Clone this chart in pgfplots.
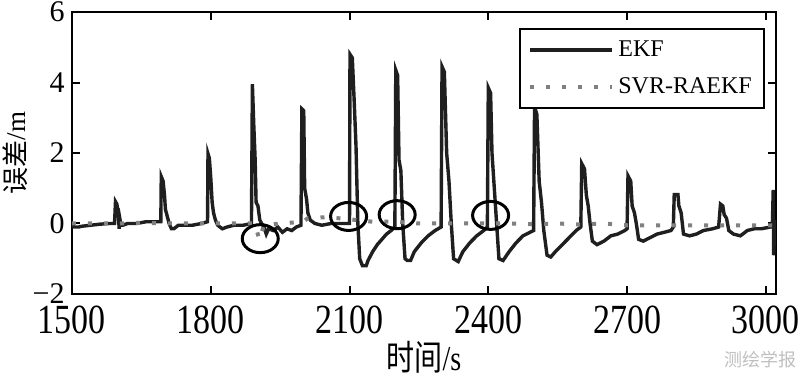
\documentclass[border=0pt]{standalone}
\usepackage{fontspec}
\setmainfont{Liberation Serif}
\newfontfamily\cjk{Noto Sans CJK SC}
\usepackage{pgfplots}
\pgfplotsset{compat=1.18}
\newcommand{\tall}[1]{\scalebox{1}[1.22]{#1}}
\begin{document}
\begin{tikzpicture}
\begin{axis}[
  name=ax,
  scale only axis,
  width=352pt, height=141pt,
  xmin=1500, xmax=3022, ymin=-2, ymax=6,
  xtick={1500,1800,2100,2400,2700,3000},
  xticklabels={\tall{1500},\tall{1800},\tall{2100},\tall{2400},\tall{2700},\tall{3000}},
  ytick={-2,0,2,4,6},
  yticklabels={−2,0,2,4,6},
  tick align=inside,
  major tick length=4pt,
  axis line style={line width=1.3pt},
  every tick/.style={line width=1pt, black},
  xticklabel style={font=\fontsize{17}{19}\selectfont, inner sep=1pt, yshift=-5pt},
  yticklabel style={font=\fontsize{15}{17}\selectfont, inner sep=1pt, xshift=-2.5pt},
  xlabel={\scalebox{1}[1.25]{\cjk 时间\rmfamily/s}},
  ylabel={\cjk 误差\rmfamily/m},
  xlabel style={font=\fontsize{14}{16}\selectfont, at={(axis description cs:0.5,-0.225)}, anchor=center},
  ylabel style={font=\fontsize{13.5}{15}\selectfont, at={(axis description cs:-0.081,0.5)}, anchor=center},
  legend style={at={(0.984,0.944)}, anchor=north east, draw=black, line width=1pt,
    font=\fontsize{12}{14}\selectfont, inner xsep=4pt, inner ysep=4pt, row sep=5pt},
  legend cell align=left,
  legend image code/.code={\draw[#1] (0pt,0pt) -- (41pt,0pt);},
  clip=true,
]
\addplot[color=black!88, line width=1.7pt, line join=miter] coordinates {
(1500,-0.05) (1505,-0.1) (1515,-0.1) (1520,-0.08) (1540,-0.05) (1560,-0.02) (1580,0) (1592,0)
(1594,0.62) (1597,0.55) (1600,0.3) (1602,-0.15) (1604,0.1) (1606,-0.05) (1610,-0.05) (1620,0.0) (1640,0.0) (1660,0.05) (1690,0.05)
(1692,0.05) (1693,1.33) (1697,1.2) (1700,0.8) (1702,0.4) (1706,0.2) (1710,0) (1715,-0.15) (1720,-0.15) (1730,-0.05) (1760,-0.05) (1780,0) (1793,0.05)
(1794,1.98) (1797,1.85) (1800,1.3) (1803,0.6) (1806,0.3) (1810,0.1) (1815,-0.05) (1825,-0.15) (1835,-0.1) (1850,-0.05) (1870,-0.05) (1888,0.0)
(1890,3.95) (1893,2.8) (1896,1.8) (1898,0.6) (1902,0.5) (1906,0.1) (1910,0) (1915,-0.1) (1920,-0.3) (1925,-0.15) (1935,-0.2) (1945,-0.1) (1955,-0.25) (1965,-0.15) (1975,-0.2) (1985,-0.1) (1995,-0.05)
(1997,3.25) (2001,3.2) (2003,1.0) (2007,0.7) (2010,0.3) (2015,0.1) (2025,0.0) (2040,-0.05) (2060,0.0) (2080,0.0) (2098,0.0)
(2100,0.0) (2101,4.8) (2106,4.7) (2110,3.5) (2114,2.2) (2118,0.0) (2122,-1.0) (2128,-1.2) (2136,-1.2) (2140,-1.05) (2150,-0.8) (2160,-0.6) (2170,-0.45) (2180,-0.3) (2190,-0.2) (2198,-0.1)
(2200,4.35) (2204,4.2) (2207,1.8) (2211,1.5) (2215,0.0) (2220,-1.0) (2225,-1.05) (2232,-1.05) (2240,-0.8) (2255,-0.55) (2270,-0.35) (2285,-0.2) (2298,-0.1)
(2300,4.45) (2305,4.3) (2310,2.0) (2315,1.2) (2320,0.0) (2325,-1.0) (2335,-1.08) (2345,-0.8) (2360,-0.55) (2375,-0.35) (2390,-0.2) (2398,-0.1)
(2400,3.85) (2405,3.7) (2408,2.0) (2413,1.0) (2418,0.0) (2423,-1.0) (2432,-1.05) (2445,-0.8) (2460,-0.55) (2475,-0.35) (2490,-0.25) (2498,-0.2)
(2500,3.3) (2505,3.1) (2510,1.2) (2515,0.6) (2520,-0.2) (2527,-0.9) (2535,-0.95) (2545,-0.8) (2560,-0.6) (2575,-0.4) (2590,-0.2) (2600,-0.1)
(2602,1.7) (2608,1.55) (2612,0.8) (2616,0.5) (2620,0.0) (2625,-0.5) (2635,-0.6) (2650,-0.5) (2665,-0.35) (2680,-0.3) (2695,-0.2) (2700,-0.15)
(2702,1.35) (2708,1.2) (2711,0.5) (2716,0.3) (2720,0.0) (2725,-0.45) (2735,-0.5) (2750,-0.4) (2765,-0.3) (2780,-0.25) (2795,-0.2) (2800,-0.1)
(2802,0.82) (2810,0.82) (2812,0.5) (2817,0.3) (2822,-0.3) (2835,-0.35) (2850,-0.3) (2865,-0.2) (2885,-0.15) (2898,-0.1)
(2902,0.55) (2907,0.5) (2910,0.25) (2915,0.15) (2920,-0.2) (2930,-0.3) (2945,-0.35) (2960,-0.2) (2975,-0.15) (2990,-0.15) (3010,-0.1)
(3014,-0.1) (3016,0.95) (3017,-0.9) (3020,0.1)
};
\addlegendentry{EKF}
\addplot[color=black!50, line width=2pt, dash pattern=on 2pt off 6pt] coordinates {
(1500,0.0) (1550,0.0) (1600,0.0) (1650,0.02) (1700,0.0) (1750,0.0) (1800,0.0) (1850,0.0) (1895,0.0)
(1905,-0.45) (1915,-0.05) (1950,0.0) (2000,0.05) (2010,0.15) (2050,0.18) (2100,0.12) (2150,0.05) (2200,0.05)
(2250,0.0) (2300,0.0) (2350,0.0) (2400,0.0) (2450,0.0) (2500,-0.02) (2550,0.0) (2600,-0.03) (2650,0.0)
(2700,-0.05) (2750,-0.05) (2800,-0.05) (2850,-0.05) (2900,-0.05) (2950,-0.05) (3000,-0.05) (3020,-0.05)
};
\addlegendentry{SVR-RAEKF}
\draw[line width=1.5pt] (axis cs:1907,-0.43) ellipse [x radius=9pt, y radius=7pt];
\draw[line width=1.5pt] (axis cs:2098,0.2) ellipse [x radius=9pt, y radius=7pt];
\draw[line width=1.5pt] (axis cs:2203,0.25) ellipse [x radius=9pt, y radius=7pt];
\draw[line width=1.5pt] (axis cs:2405,0.23) ellipse [x radius=9pt, y radius=7pt];
\end{axis}
\node[anchor=south east, text=black!25, inner sep=0pt, font=\cjk\fontsize{9}{10}\selectfont] at ([xshift=10.5pt,yshift=-37pt]ax.south east) {测绘学报};
\pgfresetboundingbox
\useasboundingbox ([xshift=-36pt,yshift=-42pt]ax.south west) rectangle ([xshift=12pt,yshift=6pt]ax.north east);
\end{tikzpicture}
\end{document}
